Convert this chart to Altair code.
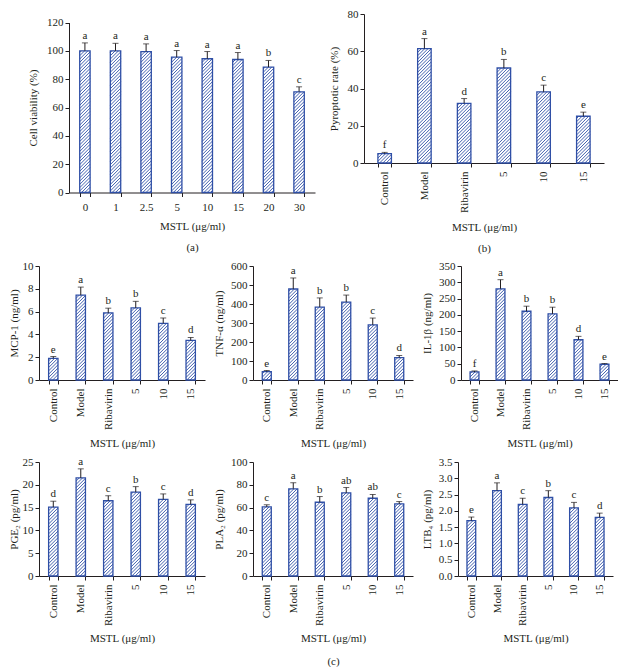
import altair as alt
import pandas as pd

FONT = "Liberation Serif"
BLUE = "#2f4fa6"
INK = "#231f20"
XTITLE = "MSTL (μg/ml)"
P_IN, P_OUT = 0.66, 0.35

groups = ["Control", "Model", "Ribavirin", "5", "10", "15"]

# (a) cell viability
a_cats = ["0", "1", "2.5", "5", "10", "15", "20", "30"]
a_vals = [100, 100, 99.5, 95.5, 94.4, 93.9, 88.5, 71.1]
a_errs = [5.6, 5.3, 5.4, 4.7, 5.1, 4.9, 4.7, 3.5]
a_lets = ["a", "a", "a", "a", "a", "a", "b", "c"]

# (b) pyroptotic rate
b_vals = [5.0, 61.4, 32.0, 51.0, 38.2, 25.1]
b_errs = [0.7, 5.4, 2.6, 4.6, 3.6, 2.2]
b_lets = ["f", "a", "d", "b", "c", "e"]

# (c) cytokines / mediators
mcp_vals = [1.9, 7.44, 5.88, 6.32, 4.97, 3.47]
mcp_errs = [0.16, 0.71, 0.42, 0.58, 0.47, 0.26]
mcp_lets = ["e", "a", "b", "b", "c", "d"]

tnf_vals = [44, 479, 384, 410, 290, 118]
tnf_errs = [6, 58, 48, 37, 36, 11]
tnf_lets = ["e", "a", "b", "b", "c", "d"]

il_vals = [24.7, 280, 211, 203, 123.6, 48.4]
il_errs = [3.1, 28, 15.6, 20.5, 10.4, 2.1]
il_lets = ["f", "a", "b", "b", "d", "e"]

pge_vals = [15.1, 21.5, 16.5, 18.4, 16.8, 15.7]
pge_errs = [1.3, 2.0, 1.1, 1.2, 1.2, 1.0]
pge_lets = ["d", "a", "c", "b", "c", "d"]

pla_vals = [60.6, 76.5, 64.7, 72.9, 68.2, 63.2]
pla_errs = [1.8, 5.3, 5.0, 4.7, 3.3, 2.1]
pla_lets = ["c", "a", "b", "ab", "ab", "c"]

ltb_vals = [1.70, 2.62, 2.20, 2.41, 2.09, 1.80]
ltb_errs = [0.11, 0.24, 0.19, 0.21, 0.17, 0.13]
ltb_lets = ["e", "a", "c", "b", "c", "d"]


def ticks(step, top):
    n = int(round(top / step))
    return [round(i * step, 4) for i in range(n + 1)]


def hatch_table(vals, w, plot_h, ymax, gap=3.3):
    """Diagonal hatch segments inside each bar, in data units."""
    n = len(vals)
    step = w / (n - P_IN + 2 * P_OUT)
    bw = (1 - P_IN) * step
    half = (1 - P_IN) / 2
    k = plot_h / ymax
    rows = []
    for i, v in enumerate(vals):
        hpx = v * k
        c = -bw + gap * 0.6
        while c < hpx:
            xs = max(0.0, -c)
            xe = min(bw, hpx - c)
            if xe - xs > 0.3:
                rows.append({"hx": i - half + xs / step,
                             "hx2": i - half + xe / step,
                             "hy": (xs + c) / k, "hy2": (xe + c) / k})
            c += gap
    return pd.DataFrame(rows)


def panel(cats, vals, errs, lets, ytitle, ymax, ystep, w, h, rotate=True,
          fmt="d", xtitle=XTITLE, lab_pad=4, x_title_pad=7, y_title_pad=6,
          line_h=21, plot_h=None, xoff=0):
    n = len(cats)
    df = pd.DataFrame({"cat": cats, "val": vals, "err": errs, "let": lets})
    df["top"] = df["val"] + df["err"]
    xenc = alt.X(
        "cat:N", sort=cats, title=xtitle,
        scale=alt.Scale(paddingInner=P_IN, paddingOuter=P_OUT, round=False,
                        range=[xoff, xoff + w]),
        axis=alt.Axis(orient="bottom", labelAngle=-90 if rotate else 0,
                      tickBand="extent", labelPadding=lab_pad,
                      titlePadding=x_title_pad, titleLineHeight=line_h),
    )
    ph = h if plot_h is None else plot_h
    yscale = alt.Scale(domain=[0, ymax], nice=False, zero=True,
                       range=[h, h - ph])
    ax_kw = dict(values=ticks(ystep, ymax), format=fmt, grid=False,
                 title=ytitle, titlePadding=y_title_pad)
    if xoff:
        ax_kw["offset"] = -xoff
    yaxis = alt.Axis(**ax_kw)

    base = alt.Chart(df).encode(x=xenc)
    outline = base.mark_bar(fill=None, stroke=BLUE, strokeWidth=1.3).encode(
        y=alt.Y("val:Q", scale=yscale, axis=yaxis))
    whisk = base.mark_rule(color=INK, strokeWidth=1).encode(
        y=alt.Y("val:Q", scale=yscale, axis=yaxis), y2="top:Q")
    cap = base.mark_tick(color=INK, size=6, thickness=1,
                         orient="horizontal").encode(
        y=alt.Y("top:Q", scale=yscale, axis=yaxis))
    txt = base.mark_text(font=FONT, fontSize=11, baseline="bottom", dy=-2,
                         color=INK).encode(
        y=alt.Y("top:Q", scale=yscale, axis=yaxis), text="let:N")

    half = (1 - P_IN) / 2
    lo = -(P_OUT + half)
    hatch = alt.Chart(hatch_table(vals, w, ph, ymax)).mark_rule(
        color=BLUE, strokeWidth=0.9).encode(
        x=alt.X("hx:Q", axis=None,
                scale=alt.Scale(domain=[lo, lo + (n - P_IN + 2 * P_OUT)],
                                range=[xoff, xoff + w],
                                nice=False, zero=False)),
        x2="hx2:Q",
        y=alt.Y("hy:Q", scale=yscale, axis=yaxis),
        y2="hy2:Q",
    )
    front = alt.layer(outline, whisk, cap, txt)
    return alt.layer(hatch, front).resolve_scale(
        x="independent").properties(width=w + xoff, height=h)


pa = panel(a_cats, a_vals, a_errs, a_lets, "Cell viability (%)", 120, 20,
           246, 178.5, rotate=False, lab_pad=5, x_title_pad=8, y_title_pad=8,
           xtitle=[XTITLE, "(a)"], plot_h=170, xoff=30)
pb = panel(groups, b_vals, b_errs, b_lets, "Pyroptotic rate (%)", 80, 20,
           240, 149, xtitle=[XTITLE, "(b)"], y_title_pad=8, x_title_pad=9)

row1 = alt.hconcat(pa, pb, spacing=13)

p_mcp = panel(groups, mcp_vals, mcp_errs, mcp_lets, "MCP-1 (ng/ml)", 10, 2,
              166, 114, x_title_pad=8, y_title_pad=3)
p_tnf = panel(groups, tnf_vals, tnf_errs, tnf_lets, "TNF-α (ng/ml)", 600, 100,
              160, 114, x_title_pad=8)
p_il = panel(groups, il_vals, il_errs, il_lets, "IL-1β (ng/ml)", 350, 50,
             157, 114, x_title_pad=8)
row2 = alt.hconcat(p_mcp, p_tnf, p_il, spacing=8)

p_pge = panel(groups, pge_vals, pge_errs, pge_lets, "PGE₂ (pg/ml)", 25, 5,
              166, 114, y_title_pad=3)
p_pla = panel(groups, pla_vals, pla_errs, pla_lets, "PLA₂ (pg/ml)", 100, 20,
              160, 114, xtitle=[XTITLE, "(c)"], line_h=23)
p_ltb = panel(groups, ltb_vals, ltb_errs, ltb_lets, "LTB₄ (pg/ml)", 3.5, 0.5,
              155, 114, fmt=".1f")
row3 = alt.hconcat(p_pge, p_pla, p_ltb, spacing=8)

chart = alt.vconcat(row1, row2, row3, spacing=6).properties(
    padding={"left": 0, "top": 0, "right": 0, "bottom": 0}
).configure_view(stroke=None).configure_axis(
    labelFont=FONT, titleFont=FONT, labelFontSize=11, titleFontSize=11,
    titleFontWeight="normal", labelColor=INK, titleColor=INK,
    domainColor=INK, tickColor=INK, tickSize=4, domainWidth=1, tickWidth=1,
)

chart.save("out.html", embed_options={"renderer": "svg", "actions": False})
